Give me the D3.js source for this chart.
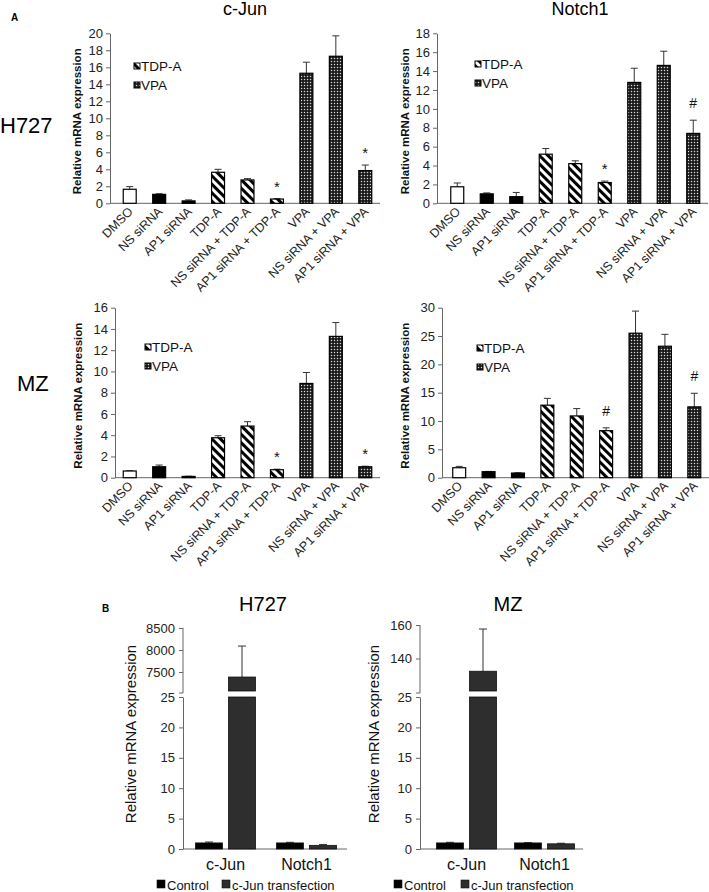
<!DOCTYPE html>
<html><head><meta charset="utf-8">
<script src="https://cdn.jsdelivr.net/npm/d3@7"></script>
<style>
body{margin:0;background:#fff;}
svg{display:block;font-family:"Liberation Sans",Arial,sans-serif;}
</style></head>
<body><svg id="c" width="709" height="892"></svg>
<script>
// ---------- DATA ----------
const conditions = ["DMSO","NS siRNA","AP1 siRNA","TDP-A","NS siRNA + TDP-A","AP1 siRNA + TDP-A","VPA","NS siRNA + VPA","AP1 siRNA + VPA"];
const conditionGroup = ["DMSO","siRNA","siRNA","TDP-A","TDP-A","TDP-A","VPA","VPA","VPA"];
const legendA = ["TDP-A","VPA"];

const h727CJunMean = [1.65,1.05,0.28,3.65,2.75,0.5,15.3,17.3,3.85];
const h727CJunErr  = [0.31,0.07,0.12,0.35,0.15,0.05,1.3,2.4,0.65];
const h727CJunSig  = ["","","","","","*","","","*"];

const h727Notch1Mean = [1.75,1.0,0.7,5.2,4.2,2.2,12.8,14.6,7.4];
const h727Notch1Err  = [0.4,0.1,0.45,0.6,0.3,0.15,1.5,1.5,1.4];
const h727Notch1Sig  = ["","","","","","*","","","#"];

const mzCJunMean = [0.63,1.03,0.12,3.76,4.86,0.75,8.87,13.3,1.03];
const mzCJunErr  = [0.03,0.16,0.02,0.19,0.41,0.05,1.03,1.3,0.05];
const mzCJunSig  = ["","","","","","*","","","*"];

const mzNotch1Mean = [1.76,1.06,0.82,12.8,10.9,8.3,25.5,23.2,12.5];
const mzNotch1Err  = [0.24,0.05,0.05,1.2,1.3,0.5,3.9,2.1,2.4];
const mzNotch1Sig  = ["","","","","","#","","","#"];

const genesB = ["c-Jun","Notch1"];
const seriesB = ["Control","c-Jun transfection"];
const h727BControlMean = [1.0,1.0];
const h727BControlErr  = [0.15,0.1];
const h727BTransMean   = [7386,0.6];
const h727BTransErr    = [704,0.15];
const mzBControlMean   = [1.0,1.0];
const mzBControlErr    = [0.1,0.05];
const mzBTransMean     = [132.4,0.85];
const mzBTransErr      = [25.2,0.1];

const yTicksH727BHigh = [7500,8000,8500];
const yTicksMZBHigh = [140,160];
const yTicksBLow = [0,5,10,15,20,25];

// ---------- DRAW ----------
const svg = d3.select("#c");
const FONT = '"Liberation Sans",Arial,sans-serif';
const AX = "#666";

const defs = svg.append("defs");
const hatch = defs.append("pattern").attr("id","hatch").attr("patternUnits","userSpaceOnUse")
  .attr("width",6).attr("height",6).attr("patternTransform","rotate(-45)");
hatch.append("rect").attr("width",6).attr("height",6).attr("fill","#fff");
hatch.append("rect").attr("x",0).attr("y",0).attr("width",3).attr("height",6).attr("fill","#000");
const dots = defs.append("pattern").attr("id","dots").attr("patternUnits","userSpaceOnUse")
  .attr("width",3).attr("height",3);
dots.append("rect").attr("width",3).attr("height",3).attr("fill","#1a1a1a");
dots.append("circle").attr("cx",1.5).attr("cy",1.5).attr("r",0.75).attr("fill","#d8d8d8");

function groupFill(g){
  if(g==="DMSO") return "#fff";
  if(g==="siRNA") return "#000";
  if(g==="TDP-A") return "url(#hatch)";
  return "url(#dots)";
}

function drawA(cfg){
  const g = svg.append("g");
  const y = d3.scaleLinear().domain([0,cfg.max]).range([cfg.y0,cfg.yTop]);
  const x = d3.scaleBand().domain(conditions).range([cfg.bandStart,cfg.bandEnd]).paddingInner(0.56).paddingOuter(0.28);
  const ya = g.append("g").attr("transform",`translate(${cfg.axisX},0)`)
    .call(d3.axisLeft(y).tickValues(d3.range(0,cfg.max+cfg.step/2,cfg.step)).tickSize(4).tickSizeOuter(0).tickPadding(3));
  ya.selectAll("path,line").attr("stroke",AX);
  ya.selectAll("text").attr("font-size",13).attr("font-family",FONT).attr("fill","#222");
  g.append("line").attr("x1",cfg.axisX).attr("x2",cfg.xEnd).attr("y1",cfg.y0).attr("y2",cfg.y0).attr("stroke",AX);
  const xa = g.append("g").attr("transform",`translate(0,${cfg.y0})`)
    .call(d3.axisBottom(x).tickSize(0).tickPadding(0));
  xa.select(".domain").remove();
  xa.selectAll("text").attr("font-size",12.5).attr("font-family",FONT).attr("fill","#222")
    .attr("text-anchor","end").attr("dy",null).attr("y",0)
    .attr("transform","translate(4,9) rotate(-45)");
  const bars = conditions.map((c,i)=>({c,grp:conditionGroup[i],m:cfg.means[i],e:cfg.errs[i],s:cfg.sig[i]}));
  g.selectAll(".eb").data(bars).join("line")
    .attr("x1",d=>x(d.c)+x.bandwidth()/2).attr("x2",d=>x(d.c)+x.bandwidth()/2)
    .attr("y1",d=>y(d.m)).attr("y2",d=>y(d.m+d.e)).attr("stroke","#333").attr("stroke-width",1);
  g.selectAll(".ec").data(bars).join("line")
    .attr("x1",d=>x(d.c)+x.bandwidth()/2-3.5).attr("x2",d=>x(d.c)+x.bandwidth()/2+3.5)
    .attr("y1",d=>y(d.m+d.e)).attr("y2",d=>y(d.m+d.e)).attr("stroke","#333").attr("stroke-width",1);
  g.selectAll(".bar").data(bars).join("rect")
    .attr("x",d=>x(d.c)).attr("width",x.bandwidth())
    .attr("y",d=>y(d.m)).attr("height",d=>cfg.y0-y(d.m))
    .attr("fill",d=>groupFill(d.grp)).attr("stroke","#000").attr("stroke-width",1.2);
  g.selectAll(".sig").data(bars.filter(d=>d.s)).join("text")
    .attr("x",d=>x(d.c)+x.bandwidth()/2).attr("y",d=>y(d.m+d.e)-(d.s==="*"?7:12))
    .attr("text-anchor","middle").attr("font-size",d=>d.s==="*"?15:14).attr("font-family",FONT).attr("fill","#111")
    .text(d=>d.s);
  g.append("text").attr("transform",`translate(${cfg.ytX},${(cfg.y0+cfg.yTop)/2+3}) rotate(-90)`)
    .attr("text-anchor","middle").attr("font-weight","bold").attr("font-size",11.5).attr("font-family",FONT)
    .attr("fill","#111").text("Relative mRNA expression");
  legendA.forEach((l,i)=>{
    const ly = cfg.legY + i*19;
    g.append("rect").attr("x",cfg.legX).attr("y",ly-8).attr("width",6).attr("height",6)
      .attr("fill",l==="TDP-A"?"url(#hatch)":"url(#dots)").attr("stroke","#000").attr("stroke-width",1);
    g.append("text").attr("x",cfg.legX+7).attr("y",ly).attr("font-size",13.5).attr("font-family",FONT)
      .attr("fill","#111").text(l);
  });
}

drawA({axisX:110,y0:203.3,yTop:33.3,max:20,step:2,bandStart:115,bandEnd:380,xEnd:380,
  means:h727CJunMean,errs:h727CJunErr,sig:h727CJunSig,ytX:81,legX:134,legY:71});
drawA({axisX:437,y0:203.3,yTop:33.3,max:18,step:2,bandStart:442.5,bandEnd:708,xEnd:708,
  means:h727Notch1Mean,errs:h727Notch1Err,sig:h727Notch1Sig,ytX:409,legX:475,legY:69});
drawA({axisX:115,y0:477.7,yTop:307.7,max:16,step:2,bandStart:115,bandEnd:380,xEnd:380,
  means:mzCJunMean,errs:mzCJunErr,sig:mzCJunSig,ytX:82,legX:145,legY:352});
drawA({axisX:442,y0:477.7,yTop:307.7,max:30,step:5,bandStart:444.5,bandEnd:709,xEnd:709,
  means:mzNotch1Mean,errs:mzNotch1Err,sig:mzNotch1Sig,ytX:409,legX:477,legY:353});

svg.append("text").attr("x",11).attr("y",21).attr("font-weight","bold").attr("font-size",10).attr("font-family",FONT).text("A");
svg.append("text").attr("x",245).attr("y",15).attr("text-anchor","middle").attr("font-size",18).attr("font-family",FONT).text("c-Jun");
svg.append("text").attr("x",580).attr("y",15).attr("text-anchor","middle").attr("font-size",18).attr("font-family",FONT).text("Notch1");
svg.append("text").attr("x",0).attr("y",133).attr("font-size",22).attr("font-family",FONT).text("H727");
svg.append("text").attr("x",17).attr("y",391).attr("font-size",22).attr("font-family",FONT).text("MZ");

// ---------- PANEL B ----------
function drawB(cfg){
  const g = svg.append("g");
  const yLow = d3.scaleLinear().domain([0,25]).range([849,697]);
  const yHigh = d3.scaleLinear().domain(cfg.highDomain).range([693,cfg.highTopPx]);
  const x = d3.scaleBand().domain(genesB).range([cfg.bandStart,cfg.bandEnd]);
  const bw = 27, gap = 6;
  const fmt = d3.format("d");
  const la = g.append("g").attr("transform",`translate(${cfg.axisX},0)`)
    .call(d3.axisLeft(yLow).tickValues(yTicksBLow).tickFormat(fmt).tickSize(4).tickSizeOuter(0).tickPadding(4));
  const ha = g.append("g").attr("transform",`translate(${cfg.axisX},0)`)
    .call(d3.axisLeft(yHigh).tickValues(cfg.highTicks).tickFormat(fmt).tickSize(4).tickSizeOuter(4).tickPadding(4));
  [la,ha].forEach(a=>{
    a.selectAll("path,line").attr("stroke",AX);
    a.selectAll("text").attr("font-size",13).attr("font-family",FONT).attr("fill","#222");
  });
  ha.select(".domain").attr("d",`M-4,${yHigh.range()[0]}H0V${cfg.highTopPx}`);
  g.append("line").attr("x1",cfg.axisX).attr("x2",cfg.xEnd).attr("y1",849).attr("y2",849).attr("stroke",AX);
  const xa = g.append("g").attr("transform","translate(0,849)").call(d3.axisBottom(x).tickSize(0).tickPadding(10));
  xa.select(".domain").remove();
  xa.selectAll("text").attr("font-size",16).attr("font-family",FONT).attr("fill","#111");

  const items = [];
  genesB.forEach((gene,i)=>{
    items.push({gene,s:0,m:cfg.ctrlMean[i],e:cfg.ctrlErr[i]});
    items.push({gene,s:1,m:cfg.transMean[i],e:cfg.transErr[i]});
  });
  const bx = d=>x(d.gene)+x.bandwidth()/2 + (d.s===0 ? -gap/2-bw : gap/2);
  const topY = d=> d.m>25 ? yHigh(d.m) : yLow(d.m);
  const errY = d=> d.m>25 ? yHigh(d.m+d.e) : yLow(d.m+d.e);
  g.selectAll(".eb").data(items).join("line")
    .attr("x1",d=>bx(d)+bw/2).attr("x2",d=>bx(d)+bw/2).attr("y1",topY).attr("y2",errY).attr("stroke","#333");
  g.selectAll(".ec").data(items).join("line")
    .attr("x1",d=>bx(d)+bw/2-4).attr("x2",d=>bx(d)+bw/2+4).attr("y1",errY).attr("y2",errY).attr("stroke","#333");
  const fill = d=> d.s===0 ? "#000" : "#2e2e2e";
  g.selectAll(".bl").data(items).join("rect")
    .attr("x",bx).attr("width",bw)
    .attr("y",d=> d.m>25 ? yLow(25) : yLow(d.m)).attr("height",d=> 849-(d.m>25 ? yLow(25) : yLow(d.m)))
    .attr("fill",fill).attr("stroke","#111").attr("stroke-width",0.8);
  g.selectAll(".bh").data(items.filter(d=>d.m>25)).join("rect")
    .attr("x",bx).attr("width",bw)
    .attr("y",d=>yHigh(d.m)).attr("height",d=>691-yHigh(d.m))
    .attr("fill",fill).attr("stroke","#111").attr("stroke-width",0.8);
  g.append("text").attr("transform",`translate(${cfg.ytX},734) rotate(-90)`).attr("text-anchor","middle")
    .attr("font-size",15).attr("font-family",FONT).attr("fill","#111").text("Relative mRNA expression");
  g.append("text").attr("x",cfg.titleX).attr("y",611).attr("text-anchor","middle").attr("font-size",20)
    .attr("font-family",FONT).text(cfg.title);
  seriesB.forEach((s,i)=>{
    g.append("rect").attr("x",cfg.legX[i]).attr("y",880).attr("width",8).attr("height",8)
      .attr("fill",i===0?"#000":"#2e2e2e").attr("stroke","#111").attr("stroke-width",0.6);
    g.append("text").attr("x",cfg.legX[i]+10).attr("y",890).attr("font-size",13).attr("font-family",FONT)
      .attr("fill","#111").text(s);
  });
}

drawB({axisX:183,xEnd:347,bandStart:185,bandEnd:347,highDomain:[7023,8500],highTopPx:628,highTicks:yTicksH727BHigh,
  ctrlMean:h727BControlMean,ctrlErr:h727BControlErr,transMean:h727BTransMean,transErr:h727BTransErr,
  ytX:136,title:"H727",titleX:263,legX:[157,222]});
drawB({axisX:420,xEnd:583,bandStart:427.5,bandEnd:583.5,highDomain:[119.4,160],highTopPx:625,highTicks:yTicksMZBHigh,
  ctrlMean:mzBControlMean,ctrlErr:mzBControlErr,transMean:mzBTransMean,transErr:mzBTransErr,
  ytX:379,title:"MZ",titleX:508,legX:[394,461]});
svg.append("text").attr("x",102).attr("y",612).attr("font-weight","bold").attr("font-size",10).attr("font-family",FONT).text("B");
</script>
</body></html>
